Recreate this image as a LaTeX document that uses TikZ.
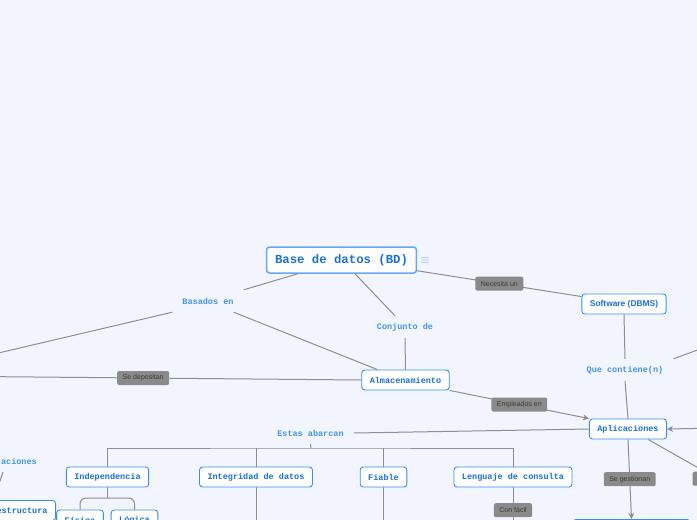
\documentclass[tikz,border=0pt]{standalone}
\usepackage{fontspec}
\setmainfont{Liberation Sans}
\setsansfont{Liberation Sans}
\setmonofont{Liberation Mono}
\usepackage{tikz}
\usetikzlibrary{arrows.meta,positioning,calc}
\definecolor{pagebg}{HTML}{F2F5FD}
\definecolor{nodebd}{HTML}{3A8EEF}
\definecolor{rootbd}{HTML}{66A8F4}
\definecolor{nodetx}{HTML}{1D6FDC}
\definecolor{linktx}{HTML}{4496EE}
\definecolor{wire}{HTML}{8E8E8E}
\definecolor{tagbg}{HTML}{8A8A8A}
\definecolor{tagtx}{HTML}{3A3A3A}
\tikzset{
  topic/.style={draw=nodebd,fill=white,rounded corners=3pt,line width=0.9pt,
                inner xsep=8pt,inner ysep=0pt,minimum height=20pt,text=nodetx,
                font=\ttfamily\bfseries\fontsize{8.5}{10}\selectfont},
  roottopic/.style={topic,draw=rootbd,line width=1.5pt,minimum height=26pt,
                    inner xsep=8.5pt,
                    font=\ttfamily\bfseries\fontsize{12.3}{14}\selectfont},
  linklabel/.style={inner xsep=10pt,inner ysep=0pt,minimum height=22pt,
                    text=linktx,
                    font=\ttfamily\bfseries\fontsize{8.5}{10}\selectfont},
  tag/.style={fill=tagbg,text=tagtx,rounded corners=2pt,inner xsep=5.5pt,
              inner ysep=0pt,minimum height=14pt,
              font=\sffamily\fontsize{7}{8}\selectfont},
  wireline/.style={draw=wire,line width=1pt},
  wirearrow/.style={wireline,-{Stealth[length=6pt,width=6pt]}},
}

\begin{document}
\begin{tikzpicture}[x=1pt,y=-1pt]
  \fill[pagebg] (0,0) rectangle (697,520);
  \useasboundingbox (0,0) rectangle (697,520);
  \clip (0,0) rectangle (697,520);
  % topics
  \node[roottopic] (bd) at (341.5,260) {Base de datos (BD)};
  \node[text=rootbd,font=\fontsize{12}{14}\selectfont] (menu) at (425,261) {$\equiv$};
  \node[linklabel] (basados) at (208,301) {Basados en};
  \node[linklabel] (conjunto) at (405,327) {Conjunto de};
  \node[topic] (almac) at (405.5,380) {Almacenamiento};
  \node[topic,font=\sffamily\bfseries\fontsize{8.4}{10}\selectfont]
    (dbms) at (624,304) {Software (DBMS)};
  \node[linklabel] (contiene) at (625,370) {Que contiene(n)};
  \node[topic] (aplic) at (628,429) {Aplicaciones};
  \node[linklabel] (abarcan) at (310.5,433) {Estas abarcan};
  \node[topic] (indep) at (107.5,477) {Independencia};
  \node[topic] (integ) at (256,477) {Integridad de datos};
  \node[topic] (fiable) at (383.5,477) {Fiable};
  \node[topic] (lengua) at (513,477) {Lenguaje de consulta};
  \node[topic] (fisica) at (80,520) {Física};
  \node[topic] (logica) at (134.5,520) {Lógica};
  \node[topic,anchor=north east,minimum width=124pt,text width=108pt,
        align=right] (estruct) at (56,500) {estructura};
  \node[linklabel,anchor=east] (relac) at (47,461) {aciones};
  \node[topic,anchor=north,minimum width=117pt] (gestion) at (631.5,519) {};
  % free ends
  \coordinate (bar) at (311,448);
  \coordinate (ib) at (107.5,498);
  \coordinate (offleft) at (-40,362);
  \coordinate (deposit) at (-75,376);
  \coordinate (offright) at (722,341);
  \coordinate (inright) at (720,428);
  \coordinate (integdn) at (256,530);
  \coordinate (fiabledn) at (383.5,530);
  \coordinate (facildn) at (513,533);
  \coordinate (apdn) at (787,518);
  % connectors
  \draw[wireline] ([xshift=32pt]bd.south west) -- (basados.north east);
  \draw[wireline] (basados.south west) -- (offleft);
  \draw[wireline] ([xshift=-10pt]basados.south east) -- ([xshift=16pt]almac.north west);
  \draw[wireline] ([xshift=13.5pt]bd.south) -- ([xshift=-10pt]conjunto.north);
  \draw[wireline] (conjunto.south) -- (almac.north);
  \draw[wireline] ([yshift=3pt]bd.south east) -- node[tag]{Necesita un}
    ([yshift=-3pt]dbms.north west);
  \draw[wireline] (dbms.south) -- (contiene.north);
  \draw[wireline] (contiene.south) -- (aplic.north);
  \draw[wireline] (contiene.north east) -- (offright);
  \draw[wireline] (almac.west) -- node[tag]{Se depositan} (deposit);
  \draw[wirearrow] (almac.south east) -- node[tag]{Empleados en} (aplic.north west);
  \draw[wirearrow] (inright) -- (aplic.east);
  \draw[wireline] (aplic.west) -- (abarcan.east);
  \draw[wireline] (abarcan.south) -- (bar);
  \draw[wireline] (indep.north) |- (bar) -| (lengua.north);
  \draw[wireline] (integ.north) -- (integ.north |- bar);
  \draw[wireline] (fiable.north) -- (fiable.north |- bar);
  \draw[wireline] (indep.south) -- (ib);
  \draw[wireline,rounded corners=6pt] (fisica.north) |- (ib) -| (logica.north);
  \draw[wireline] (integ.south) -- (integdn);
  \draw[wireline] (fiable.south) -- (fiabledn);
  \draw[wireline] (lengua.south) -- node[tag]{Con fácil} (facildn);
  \draw[wirearrow] (aplic.south) -- node[tag]{Se gestionan} (gestion.north);
  \draw[wireline] ([xshift=-19pt]aplic.south east) -- node[tag,minimum width=50pt]{Se}
    (apdn);
  \draw[wireline] ([xshift=-16pt]relac.south) -- (estruct.north);
\end{tikzpicture}
\end{document}
